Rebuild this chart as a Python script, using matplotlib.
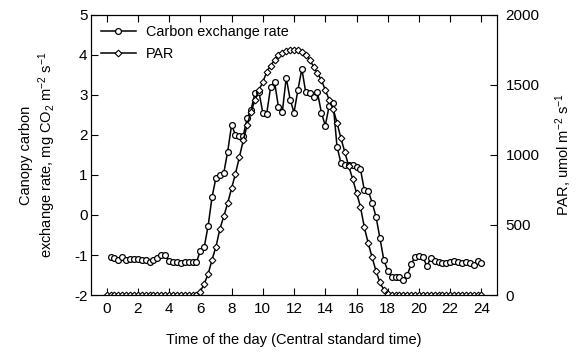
import matplotlib
matplotlib.use('Agg')
import matplotlib.pyplot as plt
import numpy

plt.rcParams['font.family'] = ['Liberation Sans', 'DejaVu Sans']
plt.rcParams['mathtext.fontset'] = 'custom'
plt.rcParams['mathtext.rm'] = 'Liberation Sans'
plt.rcParams['mathtext.it'] = 'Liberation Sans'
plt.rcParams['axes.unicode_minus'] = False

# carbon exchange rate, 15-min steps from 0.25 h to 24 h
carbon_time = numpy.arange(1, 97) * 0.25
carbon = [
    -1.06, -1.08, -1.12, -1.06, -1.12, -1.11, -1.11, -1.11, -1.12, -1.12,
    -1.17, -1.12, -1.08, -1.00, -1.00, -1.15, -1.17, -1.17, -1.21, -1.17,
    -1.17, -1.17, -1.18,
    -0.90, -0.80, -0.27, 0.45, 0.93, 1.00, 1.05, 1.58, 2.25, 2.00,
    1.98, 1.98, 2.43, 2.63, 3.05, 3.08, 2.55, 2.53, 3.20, 3.33,
    2.70, 2.58, 3.43, 2.88, 2.56, 3.13, 3.65, 3.06, 3.05, 2.95,
    3.06, 2.56, 2.23, 2.73, 2.80, 1.71, 1.30, 1.25, 1.25, 1.25,
    1.20, 1.15, 0.62, 0.60, 0.31, -0.05, -0.58, -1.13, -1.39, -1.55,
    -1.54, -1.56, -1.63, -1.50, -1.23, -1.04, -1.02, -1.04, -1.28, -1.08,
    -1.15,
    -1.17, -1.19, -1.19, -1.18, -1.15, -1.18, -1.19, -1.18, -1.19, -1.25,
    -1.14, -1.21,
]

# PAR, 15-min steps from 0 h to 24 h
par_time = numpy.arange(0, 97) * 0.25
par = [0] * 24 + [
    25, 80, 150, 252, 345, 470, 562, 656, 762, 866,
    985, 1105, 1215, 1310, 1392, 1462, 1520, 1592, 1638, 1676,
    1710, 1725, 1740, 1748, 1752, 1750, 1738, 1715, 1680, 1630,
    1583, 1535, 1464, 1393, 1330, 1230, 1120, 1020, 920, 830,
    730, 630, 483, 369, 269, 170, 90, 36, 7,
] + [0] * 24

xticks = list(range(0, 25, 2))

fig = plt.figure(figsize=(5.76, 3.62), dpi=100)
ax = fig.add_axes([0.158, 0.185, 0.705, 0.774])
ax2 = ax.twinx()

l1, = ax.plot(carbon_time, carbon, '-o', color='black', lw=1.1, ms=4.2,
              mfc='white', mec='black', mew=0.9, label='Carbon exchange rate')
l2, = ax2.plot(par_time, par, '-D', color='black', lw=1.1, ms=3.4,
               mfc='white', mec='black', mew=0.8, label='PAR')

ax.set_xlim(-1, 25)
ax.set_xticks(xticks)
ax.set_ylim(-2, 5)
ax.set_yticks(range(-2, 6))
ax2.set_ylim(0, 2000)
ax2.set_yticks(range(0, 2001, 500))

ax.tick_params(axis='x', direction='in', top=True, length=5, labelsize=11, pad=5)
ax.tick_params(axis='y', direction='in', length=5, labelsize=11, pad=2.5)
ax2.tick_params(axis='y', direction='in', length=5, labelsize=11, pad=6)

ax.set_xlabel('Time of the day (Central standard time)', fontsize=10.5, labelpad=12)
ax.set_ylabel('Canopy carbon\nexchange rate, mg CO$_2$ m$^{-2}$ s$^{-1}$',
              fontsize=10.5)
ax.yaxis.set_label_coords(-0.082, 0.5)
ax2.set_ylabel('PAR, umol m$^{-2}$ s$^{-1}$', fontsize=10.5, labelpad=10)

ax2.legend([l1, l2], ['Carbon exchange rate', 'PAR'], loc='upper left',
           frameon=False, fontsize=10.4, handlelength=2.4, borderaxespad=0.3,
           labelspacing=0.55, handletextpad=0.7)

fig.savefig('out.png', dpi=100)
